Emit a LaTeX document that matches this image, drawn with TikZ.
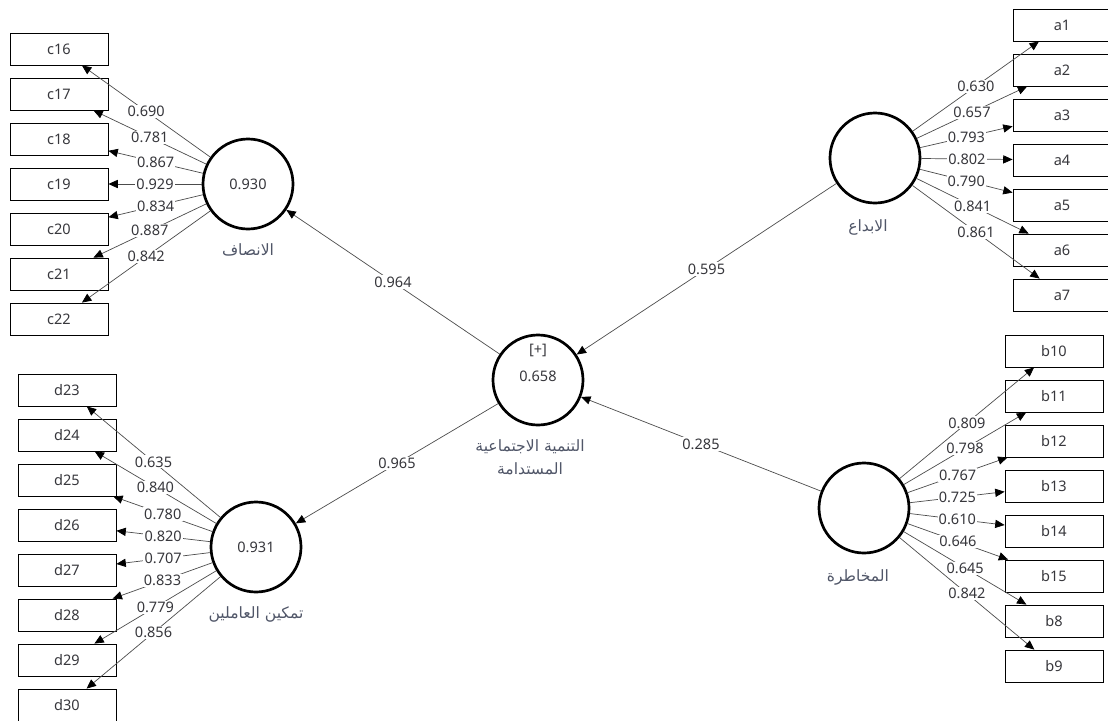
\documentclass[tikz,border=0pt]{standalone}
\usepackage{fontspec}
\setmainfont{Noto Sans}
\newfontfamily\arabicfont[Script=Arabic]{DejaVu Sans}
\TeXXeTstate=1
\usetikzlibrary{arrows.meta}
\definecolor{numgray}{RGB}{55,55,60}
\definecolor{namegray}{RGB}{80,86,104}
\begin{document}
\begin{tikzpicture}[x=0.03cm,y=-0.03cm,
  latent/.style={circle,draw,line width=2.3pt,minimum size=2.7cm,inner sep=0pt,font=\fontsize{12.4}{14}\selectfont,text=numgray},
  indic/.style={draw,line width=0.7pt,minimum width=2.94cm,minimum height=0.96cm,inner sep=0pt,font=\fontsize{12.4}{14}\selectfont,text=numgray},
  link/.style={draw=black!70,line width=0.6pt,-{Triangle[length=8pt,width=7pt,color=black]}},
  load/.style={fill=white,inner sep=1pt,font=\fontsize{12.4}{14}\selectfont,text=numgray},
  cname/.style={font=\arabicfont\fontsize{13.3}{15}\selectfont,text=namegray}]
\useasboundingbox (0,0) rectangle (1108,720);

% constructs
\node[latent] (eq) at (248,184) {0.930};
\node[latent] (em) at (256,547) {0.931};
\node[latent] (inn) at (875,158) {};
\node[latent] (risk) at (864,508) {};
\node[latent] (sd) at (538,380) {};
\node[load,fill=none] (sdplus) at (538,350) {[+]};
\node[load,fill=none] (sdr2) at (538,376) {0.658};

% construct names
\node[cname] (eqname) at (248,250) {\beginR الانصاف\endR};
\node[cname] (emname) at (256,614) {\beginR تمكين العاملين\endR};
\node[cname] (innname) at (868,227) {\beginR الابداع\endR};
\node[cname] (riskname) at (858,577) {\beginR المخاطرة\endR};
\node[cname] (sdname) at (530,447) {\beginR التنمية الاجتماعية\endR};
\node[cname] (sdname2) at (530,469) {\beginR المستدامة\endR};

% indicators
\foreach \name [count=\i from 0] in {c16,c17,c18,c19,c20,c21,c22}
  \node[indic] (\name) at (59,{49+45*\i}) {\name};
\foreach \name [count=\i from 0] in {d23,d24,d25,d26,d27,d28,d29,d30}
  \node[indic] (\name) at (67,{390+45*\i}) {\name};
\foreach \name [count=\i from 0] in {a1,a2,a3,a4,a5,a6,a7}
  \node[indic] (\name) at (1062,{25+45*\i}) {\name};
\foreach \name [count=\i from 0] in {b10,b11,b12,b13,b14,b15,b8,b9}
  \node[indic] (\name) at (1054,{351+45*\i}) {\name};

% outer loadings
\foreach \name/\val in {c16/0.690,c17/0.781,c18/0.867,c19/0.929,c20/0.834,c21/0.887,c22/0.842}
  \draw[link] (eq) -- node[load]{\val} (\name);
\foreach \name/\val in {d23/0.635,d24/0.840,d25/0.780,d26/0.820,d27/0.707,d28/0.833,d29/0.779,d30/0.856}
  \draw[link] (em) -- node[load]{\val} (\name);
\foreach \name/\val in {a1/0.630,a2/0.657,a3/0.793,a4/0.802,a5/0.790,a6/0.841,a7/0.861}
  \draw[link] (inn) -- node[load]{\val} (\name);
\foreach \name/\val in {b10/0.809,b11/0.798,b12/0.767,b13/0.725,b14/0.610,b15/0.646,b8/0.645,b9/0.842}
  \draw[link] (risk) -- node[load]{\val} (\name);

% path coefficients
\draw[link] (sd) -- node[load]{0.964} (eq);
\draw[link] (sd) -- node[load]{0.965} (em);
\draw[link] (inn) -- node[load]{0.595} (sd);
\draw[link] (risk) -- node[load]{0.285} (sd);
\end{tikzpicture}
\end{document}
